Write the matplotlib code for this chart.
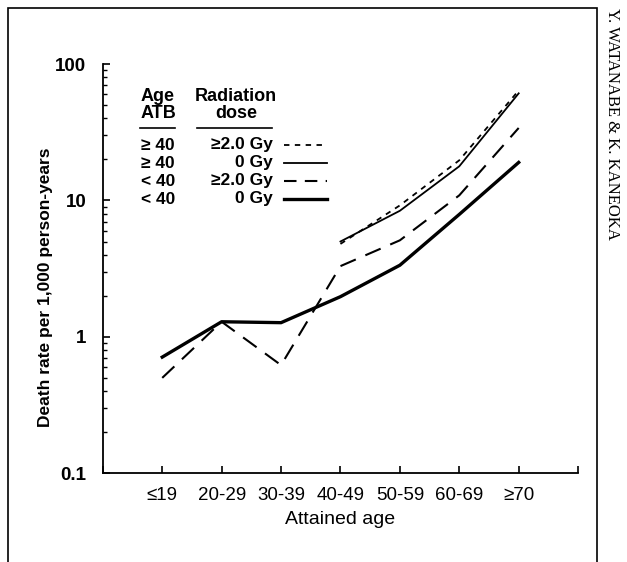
import numpy as np
import matplotlib.pyplot as plt
from matplotlib.patches import Rectangle
from matplotlib.ticker import LogLocator, NullFormatter

plt.rcParams['font.family'] = ['Liberation Sans', 'DejaVu Sans']

# data
age_groups = ['≤19', '20-29', '30-39', '40-49', '50-59', '60-69', '≥70']
old_high = [4.8, 9.2, 19.7, 64]        # >=40 ATB, >=2.0 Gy (from 40-49)
old_zero = [5.0, 8.4, 17.8, 61]        # >=40 ATB, 0 Gy (from 40-49)
young_high = [0.50, 1.29, 0.62, 3.3, 5.1, 10.9, 34]   # <40 ATB, >=2.0 Gy
young_zero = [0.71, 1.29, 1.27, 1.97, 3.35, 7.9, 19.0]  # <40 ATB, 0 Gy

x_all = np.arange(1, len(age_groups) + 1)
x_old = x_all[3:]

fig = plt.figure(figsize=(6.27, 5.62), dpi=100)
ax = fig.add_axes([0.164, 0.158, 0.758, 0.728])

ax.plot(x_old, old_high, color='black', lw=1.3, linestyle=(0, (3, 3)))
ax.plot(x_old, old_zero, color='black', lw=1.3)
ax.plot(x_all, young_high, color='black', lw=1.5, linestyle=(0, (8, 5)))
ax.plot(x_all, young_zero, color='black', lw=2.4)

ax.set_yscale('log')
ax.set_ylim(0.1, 100)
ax.set_xlim(0, 8)
ax.set_xticks(np.arange(0, 9))
ax.set_xticklabels([''] + age_groups + [''], fontsize=13.5)
ax.set_yticks([0.1, 1, 10, 100])
ax.set_yticklabels(['0.1', '1', '10', '100'], fontsize=13.5, fontweight='bold')
ax.yaxis.set_minor_locator(LogLocator(base=10, subs=np.arange(2, 10)))
ax.yaxis.set_minor_formatter(NullFormatter())
ax.tick_params(axis='both', which='major', direction='in', length=5, width=1.2)
ax.tick_params(axis='y', which='minor', direction='in', length=3, width=1)
ax.tick_params(axis='x', pad=10)
ax.tick_params(axis='y', pad=12)
for s in ['top', 'right']:
    ax.spines[s].set_visible(False)
for s in ['left', 'bottom']:
    ax.spines[s].set_linewidth(1.3)

ax.set_xlabel('Attained age', fontsize=14, labelpad=5)
ax.set_ylabel('Death rate per 1,000 person-years', fontsize=12.5, fontweight='bold')
ax.yaxis.set_label_coords(-0.105, 0.455)

# legend drawn as a small table
tr = fig.transFigure
def fx(px):
    return px / 627
def fy(py):
    return 1 - py / 562

fig.text(fx(158), fy(97), 'Age', ha='center', va='center', fontsize=13, fontweight='bold')
fig.text(fx(158), fy(114), 'ATB', ha='center', va='center', fontsize=13, fontweight='bold')
fig.text(fx(236), fy(97), 'Radiation', ha='center', va='center', fontsize=13, fontweight='bold')
fig.text(fx(236), fy(114), 'dose', ha='center', va='center', fontsize=13, fontweight='bold')
fig.add_artist(plt.Line2D([fx(140), fx(175)], [fy(128), fy(128)], color='black', lw=1.2))
fig.add_artist(plt.Line2D([fx(197), fx(272)], [fy(128), fy(128)], color='black', lw=1.2))

rows = [('≥ 40', '≥2.0 Gy', dict(lw=1.3, linestyle=(0, (3, 3)))),
        ('≥ 40', '0 Gy', dict(lw=1.3)),
        ('< 40', '≥2.0 Gy', dict(lw=1.5, linestyle=(0, (6, 4)))),
        ('< 40', '0 Gy', dict(lw=2.4))]
for i, (a, d, st) in enumerate(rows):
    y = fy(145 + i * 18)
    fig.text(fx(141), y, a, ha='left', va='center', fontsize=12.5, fontweight='bold')
    fig.text(fx(273), y, d, ha='right', va='center', fontsize=12.5, fontweight='bold')
    fig.add_artist(plt.Line2D([fx(284), fx(327)], [y, y], color='black', **st))

# page frame and running head
fig.add_artist(Rectangle((fx(8), -0.01), fx(597) - fx(8), fy(8) + 0.01, transform=tr,
                         fill=False, edgecolor='black', lw=1.2))
fig.text(fx(612), fy(8), 'Y. WATANABE & K. KANEOKA', rotation=-90, ha='center', va='top',
         fontsize=12, family='Liberation Serif')

fig.savefig('out.png', dpi=100)
